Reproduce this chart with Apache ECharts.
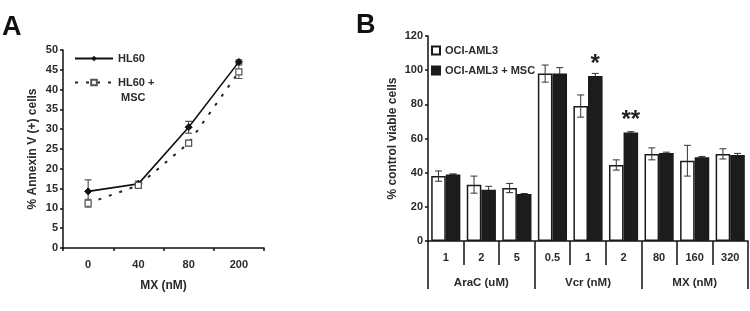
<!DOCTYPE html>
<html>
<head>
<meta charset="utf-8">
<script src="https://cdn.jsdelivr.net/npm/echarts@6/dist/echarts.min.js"></script>
<style>html,body{margin:0;padding:0;background:#fff}#c{width:750px;height:311px}</style>
</head>
<body>
<div id="c"></div>
<script>
// ---- Panel A data ----
const catsA = ['0', '40', '80', '200'];
const hl60 = [14.3, 16.2, 30.5, 47.0];
const hl60Err = [2.9, 0.7, 1.5, 0.5];
const hl60Msc = [11.3, 15.8, 26.5, 44.5];
const hl60MscErr = [1.0, 0.5, 0.7, 1.7];
const ticksA = [0, 5, 10, 15, 20, 25, 30, 35, 40, 45, 50];

// ---- Panel B data ----
const catsB = ['1', '2', '5', '0.5', '1', '2', '80', '160', '320'];
const groupsB = ['AraC (uM)', 'Vcr (nM)', 'MX (nM)'];
const oci = [38, 33, 31, 98, 79, 44.5, 51, 47, 51];
const ociErr = [3, 5, 2.7, 5, 6.5, 3, 3.5, 9, 3];
const ociMsc = [39, 30, 27.5, 98, 96.6, 63.5, 51.5, 49, 50.3];
const ociMscErr = [0.3, 2, 0.3, 3.5, 1.5, 0.5, 0.5, 0.5, 1];
const starsB = ['', '', '', '', '*', '**', '', '', ''];

const FONT = 'Liberation Sans, Arial, sans-serif';
const TXT = '#2a2a2a';

function errRender(offFrac, color, cap) {
  return function (params, api) {
    const i = api.value(0), v = api.value(1), e = api.value(2);
    const w = api.size([1, 0])[0];
    const x = api.coord([i, v])[0] + offFrac * w;
    const yt = api.coord([i, v + e])[1];
    const yb = api.coord([i, v - e])[1];
    const st = { stroke: color, lineWidth: 1 };
    return {
      type: 'group',
      children: [
        { type: 'line', shape: { x1: x, y1: yt, x2: x, y2: yb }, style: st },
        { type: 'line', shape: { x1: x - cap, y1: yt, x2: x + cap, y2: yt }, style: st },
        { type: 'line', shape: { x1: x - cap, y1: yb, x2: x + cap, y2: yb }, style: st }
      ]
    };
  };
}

const chart = echarts.init(document.getElementById('c'), null, { renderer: 'canvas' });
const axisLine = { show: true, lineStyle: { color: '#111', width: 1.5 } };
const tickLbl = { color: TXT, fontSize: 11, fontFamily: FONT, fontWeight: 'bold' };
const nameStyle = { color: TXT, fontSize: 12, fontWeight: 'bold', fontFamily: FONT };

chart.setOption({
  animation: false,
  backgroundColor: '#fff',
  textStyle: { fontFamily: FONT },
  title: [
    { text: 'A', left: 2, top: 14, padding: 0, textStyle: { fontSize: 27, fontWeight: 'bold', color: '#111', fontFamily: FONT } },
    { text: 'B', left: 356, top: 12, padding: 0, textStyle: { fontSize: 27, fontWeight: 'bold', color: '#111', fontFamily: FONT } }
  ],
  legend: [
    {
      orient: 'vertical', left: 69, top: 46, itemWidth: 38, itemHeight: 7, itemGap: -6,
      textStyle: { color: TXT, fontSize: 11, fontWeight: 'bold', fontFamily: FONT, lineHeight: 15 },
      formatter: function (n) { return n === 'HL60 + MSC' ? ' \nHL60 +\n MSC' : n; },
      data: ['HL60', 'HL60 + MSC']
    },
    {
      orient: 'vertical', left: 426, top: 40, itemWidth: 8, itemHeight: 8, itemGap: 9,
      icon: 'rect',
      textStyle: { color: TXT, fontSize: 11, fontWeight: 'bold', fontFamily: FONT },
      data: ['OCI-AML3', 'OCI-AML3 + MSC']
    }
  ],
  grid: [
    { left: 63, top: 50, width: 201, height: 198 },
    { left: 428, top: 36, width: 320, height: 205 }
  ],
  xAxis: [
    {
      gridIndex: 0, type: 'category', data: catsA,
      axisLine: axisLine,
      axisTick: { show: true, length: 3, lineStyle: { color: '#111', width: 1.5 } },
      axisLabel: Object.assign({ margin: 11 }, tickLbl),
      name: 'MX (nM)', nameLocation: 'middle', nameGap: 32,
      nameTextStyle: nameStyle
    },
    {
      gridIndex: 1, type: 'category', data: catsB,
      axisLine: axisLine,
      axisTick: { show: true, length: 24, interval: 0, lineStyle: { color: '#111', width: 1.5 } },
      axisLabel: Object.assign({ margin: 11, interval: 0 }, tickLbl)
    },
    {
      gridIndex: 1, type: 'category', data: groupsB, position: 'bottom',
      axisLine: { show: false },
      axisTick: { show: true, length: 48, interval: 0, lineStyle: { color: '#111', width: 1.5 } },
      axisLabel: Object.assign({ margin: 36, interval: 0 }, nameStyle, { fontSize: 11.5 }),
      splitLine: { show: false }
    }
  ],
  yAxis: [
    {
      gridIndex: 0, type: 'value', min: 0, max: 50, interval: 5,
      axisLine: axisLine,
      axisTick: { show: true, length: 3, lineStyle: { color: '#111', width: 1.5 } },
      splitLine: { show: false },
      axisLabel: Object.assign({ margin: 5, formatter: function (v) { return ticksA.indexOf(v) >= 0 ? String(v) : ''; } }, tickLbl),
      name: '% Annexin V (+) cells', nameLocation: 'middle', nameGap: 24, nameRotate: 90,
      nameTextStyle: nameStyle
    },
    {
      gridIndex: 1, type: 'value', min: 0, max: 120, interval: 20,
      axisLine: axisLine,
      axisTick: { show: true, length: 3, lineStyle: { color: '#111', width: 1.5 } },
      splitLine: { show: false },
      axisLabel: Object.assign({ margin: 5 }, tickLbl),
      name: '% control viable cells', nameLocation: 'middle', nameGap: 29, nameRotate: 90,
      nameTextStyle: nameStyle
    }
  ],
  series: [
    {
      type: 'custom', name: 'errA1', xAxisIndex: 0, yAxisIndex: 0, z: 3,
      renderItem: errRender(0, '#333', 3.5),
      data: hl60.map(function (v, i) { return [i, v, hl60Err[i]]; }),
      encode: { x: 0, y: 1 }
    },
    {
      type: 'custom', name: 'errA2', xAxisIndex: 0, yAxisIndex: 0, z: 3,
      renderItem: errRender(0, '#555', 3.5),
      data: hl60Msc.map(function (v, i) { return [i, v, hl60MscErr[i]]; }),
      encode: { x: 0, y: 1 }
    },
    {
      type: 'line', name: 'HL60', xAxisIndex: 0, yAxisIndex: 0, z: 4,
      data: hl60,
      symbol: 'diamond', symbolSize: 7,
      lineStyle: { color: '#111', width: 1.6 },
      itemStyle: { color: '#111', borderColor: '#111' }
    },
    {
      type: 'line', name: 'HL60 + MSC', xAxisIndex: 0, yAxisIndex: 0, z: 4,
      data: hl60Msc,
      symbol: 'rect', symbolSize: 6,
      lineStyle: { color: '#222', width: 2, type: [3, 8] },
      itemStyle: { color: '#fff', borderColor: '#555', borderWidth: 1.2 }
    },
    {
      type: 'bar', name: 'OCI-AML3', xAxisIndex: 1, yAxisIndex: 1,
      data: oci,
      barGap: '0%', barCategoryGap: '18%',
      itemStyle: { color: '#fff', borderColor: '#1a1a1a', borderWidth: 1.5 }
    },
    {
      type: 'bar', name: 'OCI-AML3 + MSC', xAxisIndex: 1, yAxisIndex: 1,
      data: ociMsc.map(function (v, i) {
        return starsB[i] ? { value: v, label: { show: true, formatter: starsB[i] } } : v;
      }),
      barGap: '0%', barCategoryGap: '18%',
      itemStyle: { color: '#1c1c1c', borderColor: '#1a1a1a', borderWidth: 1.5 },
      label: { show: false, position: 'top', distance: 0, fontSize: 24, fontWeight: 'bold', color: '#222', fontFamily: FONT }
    },
    {
      type: 'custom', name: 'errB1', xAxisIndex: 1, yAxisIndex: 1, z: 5,
      renderItem: errRender(-0.205, '#333', 3.5),
      data: oci.map(function (v, i) { return [i, v, ociErr[i]]; }),
      encode: { x: 0, y: 1 }
    },
    {
      type: 'custom', name: 'errB2', xAxisIndex: 1, yAxisIndex: 1, z: 1,
      renderItem: errRender(0.205, '#333', 3.5),
      data: ociMsc.map(function (v, i) { return [i, v, ociMscErr[i]]; }),
      encode: { x: 0, y: 1 }
    }
  ]
});
</script>
</body>
</html>
